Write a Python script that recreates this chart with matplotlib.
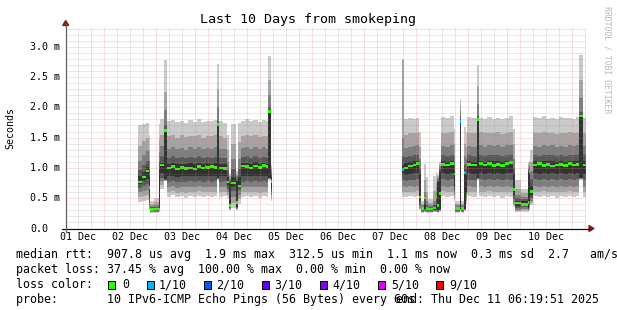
import numpy as np
import matplotlib
matplotlib.use("Agg")
import matplotlib.pyplot as plt
from matplotlib.patches import Rectangle, Polygon
from matplotlib import transforms

N = np.nan

# ---- data: step start times (hours since 01 Dec 00:00) ----
hours = [39.7, 41.5, 43.4, 45.0, 45.4, 47.3, 49.2, 49.7, 51.6, 53.0,
         55, 57, 59, 61, 63, 65, 67, 69, 70.4, 71,
         73, 75, 76.0, 77.1, 79, 80.8, 81.9, 82.8, 84.9, 85.8,
         87.2, 89, 91, 93, 95, 97, 99, 99.8, 100.9, 101.5,
         161.5, 162.5, 164.5, 166.5, 168.0, 169.2, 170.2, 171.9, 172.6, 173.5,
         175.8, 177.2, 177.7, 178.5, 179.5, 181.5, 183.5, 185.5, 186.0, 188.2,
         188.8, 190.2, 190.9, 191.5, 193.5, 196.0, 197.1, 199, 201, 203,
         205, 207, 209, 211, 212.9, 213.7, 216.5, 219.5, 220.3, 220.8,
         222.2, 224, 226, 228, 230, 232, 234, 236, 238, 240,
         242, 243.1, 245.1, 246.5]

# sorted ping rtts (ms), ping1 (fastest) .. ping10 (slowest)
p1 = [.44, .45, .47, .30, .25, .26, .28, .66, .78, .52,
      .55, .52, .54, .51, .53, .52, .54, .52, .52, .53,
      .52, .53, .80, .52, .53, .50, .30, .34, .31, .40,
      .52, .54, .52, .53, .51, .53, .52, .80, .45, N,
      .52, .52, .53, .52, .54, .30, .26, .27, .26, .26,
      .27, .27, .26, .28, .54, .52, .53, .45, .26, .29,
      .26, .29, .40, .53, .52, .80, .53, .52, .54, .52,
      .53, .51, .53, .52, .35, .27, .28, .28, .30, .38,
      .53, .52, .54, .52, .53, .51, .53, .52, .54, .52,
      .53, .80, .52, N]
p2 = [.52, .54, .56, .33, .27, .27, .29, .72, .79, .60,
      .62, .59, .61, .59, .61, .60, .62, .60, .60, .61,
      .60, .61, .81, .60, .61, .55, .31, .42, .32, .48,
      .60, .61, .60, .61, .59, .61, .60, .81, .50, N,
      .60, .60, .61, .60, .62, .32, .27, .28, .27, .27,
      .28, .28, .27, .29, .62, .60, .61, .50, .27, .30,
      .27, .30, .45, .61, .60, .81, .61, .60, .62, .60,
      .61, .60, .61, .60, .38, .29, .30, .29, .32, .42,
      .61, .60, .62, .60, .61, .60, .61, .60, .62, .60,
      .61, .81, .60, N]
p3 = [.60, .62, .64, .36, .28, .28, .30, .78, .80, .68,
      .70, .67, .69, .68, .69, .68, .70, .68, .68, .69,
      .68, .69, .82, .68, .69, .60, .32, .52, .33, .56,
      .68, .69, .68, .69, .68, .69, .68, .82, .55, N,
      .70, .69, .70, .69, .70, .34, .28, .29, .28, .28,
      .29, .29, .28, .30, .70, .69, .70, .56, .28, .31,
      .28, .31, .50, .70, .69, .82, .70, .69, .70, .69,
      .70, .69, .70, .69, .42, .31, .32, .30, .35, .46,
      .70, .69, .70, .69, .70, .69, .70, .69, .70, .69,
      .70, .82, .69, N]
p4 = [.67, .70, .73, .42, .29, .29, .31, .84, .80, .77,
      .78, .76, .77, .77, .78, .77, .78, .77, .77, .78,
      .77, .78, .83, .77, .78, .66, .34, .62, .34, .63,
      .77, .78, .77, .78, .77, .78, .77, .83, .60, N,
      .80, .79, .80, .80, .81, .38, .29, .30, .29, .29,
      .30, .31, .29, .31, .81, .80, .81, .62, .29, .32,
      .29, .32, .55, .80, .80, .83, .81, .80, .81, .80,
      .81, .80, .81, .80, .48, .34, .35, .32, .40, .50,
      .81, .80, .81, .80, .81, .80, .81, .80, .81, .80,
      .81, .83, .80, N]
p5 = [.73, .78, .82, .50, .30, .30, .32, .92, .81, .86,
      .87, .85, .86, .86, .87, .86, .87, .86, .86, .87,
      .86, .87, .84, .86, .86, .72, .36, .68, .36, .68,
      .86, .87, .86, .87, .86, .87, .86, .84, .65, N,
      .90, .89, .90, .91, .92, .45, .30, .32, .31, .30,
      .31, .33, .30, .32, .91, .90, .92, .68, .30, .33,
      .30, .33, .60, .91, .90, .84, .91, .90, .92, .90,
      .91, .90, .91, .91, .55, .37, .38, .34, .45, .55,
      .91, .90, .92, .90, .91, .90, .91, .90, .92, .90,
      .91, .84, .90, N]
p6 = [.86, .94, 1.01, .85, .33, .33, .98, 1.08, 1.64, 1.07,
      1.08, 1.06, 1.07, 1.06, 1.08, 1.07, 1.08, 1.06, 1.06, 1.08,
      1.07, 1.08, 1.72, 1.07, 1.06, .85, .74, .85, .78, .85,
      1.08, 1.08, 1.07, 1.09, 1.07, 1.08, 1.07, 1.94, .85, N,
      1.05, 1.08, 1.10, 1.11, 1.12, .90, .34, .40, .35, .34,
      .35, .40, .77, .94, 1.11, 1.10, 1.12, .95, .34, 1.78,
      .34, .97, .90, 1.11, 1.10, 1.80, 1.12, 1.10, 1.12, 1.11,
      1.12, 1.10, 1.12, 1.12, .90, .46, .45, .93, .94, .70,
      1.11, 1.10, 1.12, 1.11, 1.12, 1.10, 1.11, 1.10, 1.12, 1.11,
      1.12, 1.86, 1.11, N]
p7 = [.97, 1.05, 1.12, .98, .35, .35, 1.10, 1.20, 1.70, 1.17,
      1.19, 1.17, 1.18, 1.16, 1.18, 1.17, 1.19, 1.17, 1.17, 1.18,
      1.17, 1.18, 1.78, 1.17, 1.16, .95, .78, .98, .82, .98,
      1.18, 1.19, 1.17, 1.19, 1.17, 1.18, 1.17, 2.00, .90, N,
      1.20, 1.18, 1.20, 1.21, 1.22, 1.00, .36, .48, .38, .36,
      .38, .48, .80, .98, 1.21, 1.20, 1.22, 1.05, .36, 1.85,
      .36, 1.05, 1.00, 1.21, 1.20, 1.86, 1.22, 1.20, 1.22, 1.21,
      1.22, 1.20, 1.22, 1.22, 1.00, .50, .48, .96, .98, .82,
      1.21, 1.20, 1.22, 1.21, 1.22, 1.20, 1.21, 1.20, 1.22, 1.21,
      1.22, 1.92, 1.21, N]
p8 = [1.12, 1.21, 1.28, 1.12, .37, .38, 1.26, 1.36, 1.95, 1.32,
      1.35, 1.31, 1.33, 1.30, 1.34, 1.32, 1.35, 1.31, 1.31, 1.33,
      1.32, 1.34, 2.00, 1.32, 1.31, 1.10, .82, 1.15, .86, 1.15,
      1.33, 1.35, 1.32, 1.34, 1.31, 1.34, 1.32, 2.20, .95, N,
      1.50, 1.33, 1.35, 1.36, 1.37, 1.15, .38, .60, .45, .38,
      .45, .60, .83, 1.02, 1.36, 1.35, 1.37, 1.20, .38, 1.95,
      .38, 1.20, 1.15, 1.36, 1.35, 2.05, 1.37, 1.35, 1.37, 1.36,
      1.37, 1.35, 1.37, 1.38, 1.15, .56, .52, 1.00, 1.03, .95,
      1.36, 1.35, 1.37, 1.36, 1.37, 1.35, 1.36, 1.35, 1.37, 1.36,
      1.37, 2.15, 1.36, N]
p9 = [1.36, 1.45, 1.50, 1.30, .41, .43, 1.48, 1.55, 2.25, 1.52,
      1.55, 1.50, 1.54, 1.51, 1.53, 1.52, 1.55, 1.50, 1.50, 1.53,
      1.52, 1.54, 2.30, 1.52, 1.50, 1.30, .86, 1.40, .90, 1.42,
      1.53, 1.55, 1.52, 1.54, 1.51, 1.53, 1.52, 2.45, 1.00, N,
      2.78, 1.55, 1.57, 1.58, 1.58, 1.35, .41, .80, .60, .42,
      .62, .75, .86, 1.06, 1.58, 1.57, 1.59, 1.40, .41, 2.05,
      .41, 1.40, 1.35, 1.58, 1.57, 2.35, 1.59, 1.57, 1.58, 1.57,
      1.59, 1.56, 1.58, 1.60, 1.40, .66, .58, 1.05, 1.08, 1.10,
      1.58, 1.57, 1.59, 1.57, 1.58, 1.56, 1.58, 1.57, 1.59, 1.57,
      1.58, 2.45, 1.57, N]
p10 = [1.70, 1.72, 1.74, 1.55, .46, .50, 1.72, 1.81, 2.78, 1.77,
       1.79, 1.76, 1.78, 1.74, 1.79, 1.76, 1.80, 1.75, 1.75, 1.78,
       1.77, 1.79, 2.72, 1.77, 1.74, 1.55, .90, 1.72, .95, 1.74,
       1.78, 1.80, 1.77, 1.79, 1.76, 1.79, 1.78, 2.84, 1.05, N,
       2.80, 1.80, 1.82, 1.81, 1.83, 1.60, .45, 1.07, .85, .48,
       .86, .93, .90, 1.10, 1.84, 1.82, 1.85, 1.65, .45, 2.14,
       .45, 1.67, 1.60, 1.84, 1.82, 2.70, 1.83, 1.81, 1.84, 1.80,
       1.83, 1.81, 1.82, 1.85, 1.65, .80, .66, 1.10, 1.12, 1.30,
       1.84, 1.82, 1.85, 1.81, 1.83, 1.80, 1.84, 1.82, 1.83, 1.81,
       1.84, 2.87, 1.82, N]
median = [.77, .85, .95, .68, .31, .32, .31, 1.05, 1.62, 1.00,
          1.02, .98, 1.01, .99, 1.00, .98, 1.02, 1.00, 1.02, 1.01,
          1.02, 1.01, 1.72, 1.00, .99, .77, .38, .75, .43, .70,
          1.03, 1.02, 1.00, 1.03, 1.01, 1.04, 1.02, 1.93, .78, N,
          .97, 1.00, 1.03, 1.05, 1.07, .52, .33, .50, .33, .32,
          .34, .52, .38, .58, 1.06, 1.05, 1.07, .90, .33, 1.77,
          .33, .92, .55, 1.06, 1.05, 1.80, 1.07, 1.05, 1.07, 1.04,
          1.06, 1.04, 1.07, 1.09, .64, .42, .40, .43, .94, .61,
          1.05, 1.07, 1.04, 1.06, 1.03, 1.05, 1.06, 1.04, 1.07, 1.05,
          1.06, 1.86, 1.05, N]
# lost pings out of 10 per step
loss = [0, 0, 0, 0, 0, 0, 0, 0, 0, 0,
        0, 0, 0, 0, 0, 0, 0, 0, 1, 0,
        0, 0, 0, 0, 0, 0, 0, 0, 0, 0,
        0, 0, 0, 0, 0, 0, 0, 0, 0, 0,
        1, 0, 0, 0, 0, 0, 0, 0, 0, 0,
        0, 0, 0, 0, 0, 0, 0, 0, 0, 1,
        0, 1, 0, 0, 0, 0, 0, 0, 0, 0,
        0, 0, 0, 0, 0, 0, 0, 0, 0, 0,
        0, 0, 0, 0, 0, 0, 0, 0, 0, 0,
        0, 0, 0, 0]

day_labels = ["01 Dec", "02 Dec", "03 Dec", "04 Dec", "05 Dec",
              "06 Dec", "07 Dec", "08 Dec", "09 Dec", "10 Dec"]
day_label_hours = [12, 36, 60, 84, 108, 132, 156, 180, 204, 228]
ytick_values = [0.0, 0.5, 1.0, 1.5, 2.0, 2.5, 3.0]
ytick_labels = ["0.0", "0.5 m", "1.0 m", "1.5 m", "2.0 m", "2.5 m", "3.0 m"]
loss_labels = ["0", "1/10", "2/10", "3/10", "4/10", "5/10", "9/10"]
loss_colors = ["#26ff00", "#00b8ff", "#0059ff", "#5e00ff", "#7e00ff", "#dd00ff", "#ff0000"]

title = "Last 10 Days from smokeping"
stats_rtt = "median rtt:  907.8 us avg  1.9 ms max  312.5 us min  1.1 ms now  0.3 ms sd  2.7   am/s"
stats_loss = "packet loss: 37.45 % avg  100.00 % max  0.00 % min  0.00 % now"
probe_text = "probe:       10 IPv6-ICMP Echo Pings (56 Bytes) every 60s"
end_text = "end: Thu Dec 11 06:19:51 2025"

# ---- layout ----
W, H = 617, 310
MONO = "DejaVu Sans Mono"
FS = 7.2
FS_LEG = 8.4
fig = plt.figure(figsize=(W / 100, H / 100), dpi=100)
fig.patch.set_facecolor("white")


def fx(px):
    return px / W


def fy(py):
    return 1 - py / H


x0, x1 = 65.7, 585.7
y_top, y_bot = 26.7, 228.5
ax = fig.add_axes([fx(x0), fy(y_bot), (x1 - x0) / W, (y_bot - y_top) / H])
ax.set_xlim(6.331, 246.331)
ax.set_ylim(0, 3.33)
ax.axis("off")

t = np.array(hours, float)
xs = np.column_stack([t[:-1], t[1:]]).ravel()


def stepify(v):
    v = np.asarray(v, float)
    return np.repeat(v[:-1], 2)


pings = [p1, p2, p3, p4, p5, p6, p7, p8, p9, p10]
shades = ["#cacaca", "#a4a4a4", "#7e7e7e", "#585858", "#323232"]
for i in range(5):
    ax.fill_between(xs, stepify(pings[i]), stepify(pings[9 - i]),
                    color=shades[i], linewidth=0, zorder=2)

# median markers coloured by loss
med = np.array(median, float)
ls = np.array(loss)
d = 0.021
for lvl in sorted(set(loss)):
    m = stepify(np.where(ls == lvl, med, np.nan))
    ax.fill_between(xs, m - d, m + d, color=loss_colors[lvl], linewidth=0, zorder=3)

# grid (drawn on top, dotted)
minor_c = (0.55, 0.55, 0.55, 0.38)
major_c = (0.95, 0.45, 0.45, 0.45)
dot = (0, (1, 1))
for h in range(12, 247, 6):
    c = major_c if h % 24 == 0 else minor_c
    ax.axvline(h, color=c, lw=0.72, ls=dot, zorder=4)
for k in range(1, 34):
    v = k / 10
    c = major_c if k % 5 == 0 else minor_c
    ax.axhline(v, color=c, lw=0.72, ls=dot, zorder=4)

# axes lines and arrows
fig.add_artist(plt.Line2D([fx(62), fx(590)], [fy(y_bot), fy(y_bot)], color="#101010", lw=0.9))
fig.add_artist(plt.Line2D([fx(x0), fx(x0)], [fy(y_bot + 3), fy(24)], color="#606060", lw=0.9))
arrow_c = "#8b1c1c"
fig.add_artist(Polygon([(fx(x0 - 3), fy(25.5)), (fx(x0 + 3), fy(25.5)), (fx(x0), fy(20.5))],
                       closed=True, color=arrow_c, transform=fig.transFigure))
fig.add_artist(Polygon([(fx(589), fy(y_bot - 3)), (fx(589), fy(y_bot + 3)), (fx(594), fy(y_bot))],
                       closed=True, color=arrow_c, transform=fig.transFigure))

# tick labels
ytr = transforms.blended_transform_factory(fig.transFigure, ax.transData)
for v, lab in zip(ytick_values, ytick_labels):
    fig.text(fx(30), v, lab, transform=ytr, ha="left", va="center",
             family=MONO, fontsize=FS, color="black")
xtr = transforms.blended_transform_factory(ax.transData, fig.transFigure)
for h, lab in zip(day_label_hours, day_labels):
    fig.text(h, fy(237.5), lab, transform=xtr, ha="center", va="center",
             family=MONO, fontsize=FS, color="black")

fig.text(fx(308.5), fy(19.5), title, ha="center", va="center", family=MONO, fontsize=9.6)
fig.text(fx(10.5), fy(127.5), "Seconds", rotation=90, ha="center", va="center",
         family=MONO, fontsize=FS)
fig.text(fx(607), fy(60), "RRDTOOL / TOBI OETIKER", rotation=-90, ha="center", va="center",
         family=MONO, fontsize=5.9, color="#b8b8b8")

# legend block
lx = 15.7
rows_y = [254.5, 269.5, 284.5, 299.5]
fig.text(fx(lx), fy(rows_y[0]), stats_rtt, ha="left", va="center", family=MONO, fontsize=FS_LEG)
fig.text(fx(lx), fy(rows_y[1]), stats_loss, ha="left", va="center", family=MONO, fontsize=FS_LEG)
fig.text(fx(lx), fy(rows_y[2]), "loss color:", ha="left", va="center", family=MONO, fontsize=FS_LEG)
box_left = [108.3, 146.5, 203.9, 261.8, 319.7, 378.0, 436.2]
label_left = [122.5, 158.5, 216.5, 274.5, 332.5, 390.8, 449.0]
for bx, tx, lab, col in zip(box_left, label_left, loss_labels, loss_colors):
    fig.add_artist(Rectangle((fx(bx), fy(rows_y[2] + 4)), 7 / W, 8 / H, transform=fig.transFigure,
                             facecolor=col, edgecolor="black", lw=0.72))
    fig.text(fx(tx), fy(rows_y[2]), lab, ha="left", va="center", family=MONO, fontsize=FS_LEG)
# the reference overlaps the end stamp with the probe line; reproduced as-is
fig.text(fx(lx), fy(rows_y[3]), probe_text, ha="left", va="center", family=MONO, fontsize=FS_LEG)
fig.text(fx(396), fy(rows_y[3]), end_text, ha="left", va="center", family=MONO, fontsize=FS_LEG)

fig.savefig("out.png", dpi=100, facecolor="white")
